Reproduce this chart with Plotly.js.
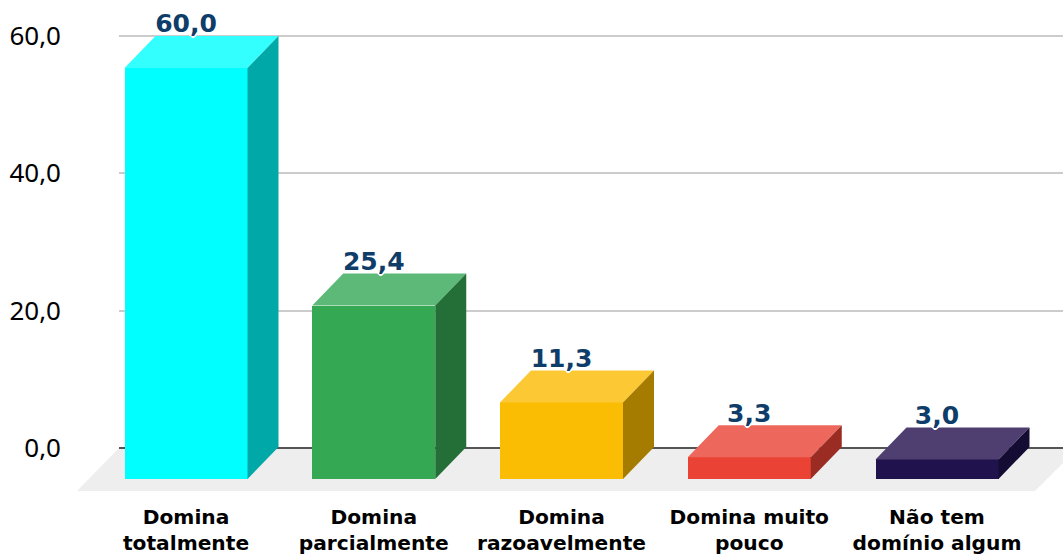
<!DOCTYPE html>
<html><head><meta charset="utf-8">
<script src="https://cdn.plot.ly/plotly-3.0.1.min.js"></script>
<style>html,body{margin:0;padding:0;background:#fff;overflow:hidden}#c{width:1063px;height:557px}</style>
</head><body><div id="c"></div>
<script>
const categories = ["Domina<br>totalmente","Domina<br>parcialmente","Domina<br>razoavelmente","Domina muito<br>pouco","Não tem<br>domínio algum"];
const values = [60.0,25.4,11.3,3.3,3.0];
const labels = ["60,0","25,4","11,3","3,3","3,0"];
const frontColors = ["#00FFFF","#34A853","#FBBC04","#EA4335","#20124D"];
const topColors = ["#33FFFF","#5DB978","#FCC934","#EE675C","#4E3F70"];
const sideColors = ["#00A8A8","#236F37","#A67C00","#9A2C23","#150C33"];
const yTicks = [0,20,40,60];
const yTickText = ["0,0","20,0","40,0","60,0"];

const W=1063,H=557,L=119,T=0,Z=448,B=H-491;
const pxPerCat=187.75, pxPerUnit=(Z-36)/60;
const x0=(186-L)/pxPerCat;
const barW=123/pxPerCat, dx=31/pxPerCat, dy=32/pxPerUnit, floorDrop=31/pxPerUnit;
const yMin=-(491-Z)/pxPerUnit, yMax=Z/pxPerUnit;
const idx=values.map((_,i)=>i);
const traces=[];
traces.push({type:'bar',x:idx,y:values.map(v=>v-dy+floorDrop),base:values.map(()=>-floorDrop),width:barW,
  marker:{color:frontColors,line:{width:0}},hoverinfo:'skip',showlegend:false});
values.forEach((v,i)=>{
  const l=i-barW/2,r=i+barW/2,f=v-dy;
  traces.push({type:'scatter',mode:'lines',x:[l,l+dx,r+dx,r,l],y:[f,v,v,f,f],fill:'toself',fillcolor:topColors[i],
    line:{width:0,color:topColors[i]},hoverinfo:'skip',showlegend:false});
  traces.push({type:'scatter',mode:'lines',x:[r,r+dx,r+dx,r,r],y:[f,v,-floorDrop+dy,-floorDrop,f],fill:'toself',fillcolor:sideColors[i],
    line:{width:0,color:sideColors[i]},hoverinfo:'skip',showlegend:false});
});
const ring=[[1,0],[-1,0],[0,1],[0,-1],[1,1],[-1,-1],[1,-1],[-1,1],[2,0],[-2,0],[0,2],[0,-2]].map(p=>p[0]+'px '+p[1]+'px 0 #fff').join(',');
traces.push({type:'scatter',mode:'text',x:idx,y:values.map(v=>v+10/pxPerUnit),text:labels,textposition:'middle center',
  textfont:{family:'"DejaVu Sans",sans-serif',size:25,weight:700,color:'#0F3D69',shadow:ring},
  cliponaxis:false,hoverinfo:'skip',showlegend:false});

const h=H-T-B, w=W-L;
const layout={width:W,height:H,margin:{l:L,r:0,t:T,b:B},paper_bgcolor:'#fff',plot_bgcolor:'rgba(0,0,0,0)',showlegend:false,bargap:0,
  xaxis:{type:'linear',range:[-x0,w/pxPerCat-x0],tickmode:'array',tickvals:idx,ticktext:categories,tickangle:0,showgrid:false,zeroline:false,
    showline:false,ticks:'',ticklabelstandoff:12,
    tickfont:{family:'"DejaVu Sans",sans-serif',size:20.2,weight:700,color:'#000'}},
  yaxis:{range:[yMin,yMax],tickmode:'array',tickvals:yTicks,ticktext:yTickText,showgrid:true,gridcolor:'#CCCCCC',gridwidth:2,
    zeroline:true,zerolinecolor:'#555555',zerolinewidth:2,showline:false,ticks:'',
    ticklabelstandoff:57,tickfont:{family:'"Noto Sans",sans-serif',size:26,color:'#000'}},
  shapes:[{type:'path',xref:'paper',yref:'paper',layer:'below',fillcolor:'#EEEEEE',line:{width:0},
    path:`M ${(77-L)/w} 0 L ${(1035-L)/w} 0 L ${(1078-L)/w} ${(491-Z)/h} L 0 ${(491-Z)/h} Z`}]};
Plotly.newPlot('c',traces,layout,{displayModeBar:false,staticPlot:true});
</script></body></html>
